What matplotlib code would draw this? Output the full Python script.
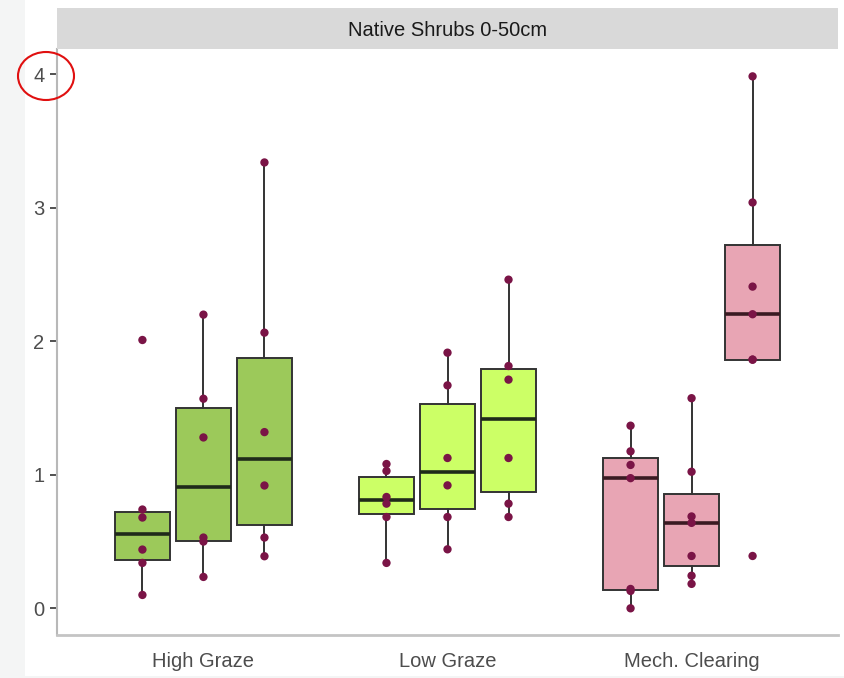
import matplotlib
matplotlib.use("Agg")
import matplotlib.pyplot as plt
from matplotlib.patches import Rectangle, Ellipse
import numpy as np

plt.rcParams['font.family'] = ['Liberation Sans', 'DejaVu Sans']

# ---- data ----
groups = ["High Graze", "Low Graze", "Mech. Clearing"]
high_graze = [
    [0.10, 0.34, 0.44, 0.68, 0.74, 2.01],
    [0.235, 0.50, 0.53, 1.28, 1.57, 2.20],
    [0.39, 0.53, 0.92, 1.32, 2.065, 3.34],
]
low_graze = [
    [0.34, 0.684, 0.784, 0.834, 1.029, 1.081],
    [0.442, 0.684, 0.921, 1.126, 1.67, 1.915],
    [0.684, 0.784, 1.126, 1.713, 1.815, 2.462],
]
mech_clearing = [
    [0.0, 0.13, 0.145, 0.975, 1.074, 1.176, 1.368],
    [0.183, 0.244, 0.392, 0.64, 0.688, 1.023, 1.574],
    [0.392, 1.863, 1.863, 2.203, 2.41, 3.04, 3.985],
]
group_data = [high_graze, low_graze, mech_clearing]
group_colors = ["#9cc95a", "#ccff66", "#e8a5b4"]
y_ticks = [0, 1, 2, 3, 4]
strip_title = "Native Shrubs 0-50cm"

# ---- figure ----
W, H = 844, 678
fig = plt.figure(figsize=(W / 100, H / 100), dpi=100)
fig.patch.set_facecolor("white")

# gray screenshot margins
fig.patches.append(Rectangle((0, 0), 25 / W, 1, transform=fig.transFigure,
                             facecolor="#f4f5f5", edgecolor="none", zorder=0))
fig.patches.append(Rectangle((0, 0), 1, 2 / H, transform=fig.transFigure,
                             facecolor="#f4f5f5", edgecolor="none", zorder=0))

left, right, top, bottom = 57, 838, 49, 635
ax = fig.add_axes([left / W, 1 - bottom / H, (right - left) / W, (bottom - top) / H])

offsets = [-0.25, 0.0, 0.25]
box_w = 0.225
edge = "#333333"
pt_color = "#7a1446"

for gi, (sets, col) in enumerate(zip(group_data, group_colors)):
    for si, vals in enumerate(sets):
        pos = gi + 1 + offsets[si]
        ax.boxplot([vals], positions=[pos], widths=box_w, patch_artist=True,
                   showfliers=False, whis=1.5,
                   boxprops=dict(facecolor=col, edgecolor=edge, linewidth=1.4),
                   medianprops=dict(color="#1f2a1a" if gi < 2 else "#3a1a22", linewidth=2.6),
                   whiskerprops=dict(color=edge, linewidth=1.4),
                   capprops=dict(linewidth=0),
                   zorder=2)
        ax.scatter([pos] * len(vals), vals, s=36, color=pt_color, zorder=3,
                   edgecolors="none")

ax.set_xlim(0.4, 3.6)
ax.set_ylim(-0.2, 4.19)
ax.set_xticks([1, 2, 3])
ax.set_xticklabels(groups)
ax.set_yticks(y_ticks)
ax.set_yticklabels([str(t) for t in y_ticks])
ax.tick_params(axis="x", length=0, pad=12, labelsize=14.5, labelcolor="#4d4d4d")
ax.tick_params(axis="y", length=5, width=1.2, color="#333333", pad=4,
               labelsize=14.5, labelcolor="#4d4d4d")
for s in ["top", "right"]:
    ax.spines[s].set_visible(False)
ax.spines["left"].set_color("#b8b8b8")
ax.spines["bottom"].set_color("#c4c4c4")
ax.spines["left"].set_linewidth(1.5)
ax.spines["bottom"].set_linewidth(2)

# facet strip
fig.patches.append(Rectangle((left / W, 1 - top / H), (right - left) / W, (top - 8) / H,
                             transform=fig.transFigure, facecolor="#d9d9d9",
                             edgecolor="none", zorder=1))
fig.text((left + right) / 2 / W, 1 - 30 / H, strip_title, ha="center", va="center",
         fontsize=14.5, color="#1a1a1a")

# red annotation circle around the "4" tick
fig.patches.append(Ellipse((46 / W, 1 - 76 / H), 56 / W, 48 / H,
                           transform=fig.transFigure, facecolor="none",
                           edgecolor="#e01010", linewidth=1.5, zorder=5))

fig.savefig("out.png", dpi=100)
